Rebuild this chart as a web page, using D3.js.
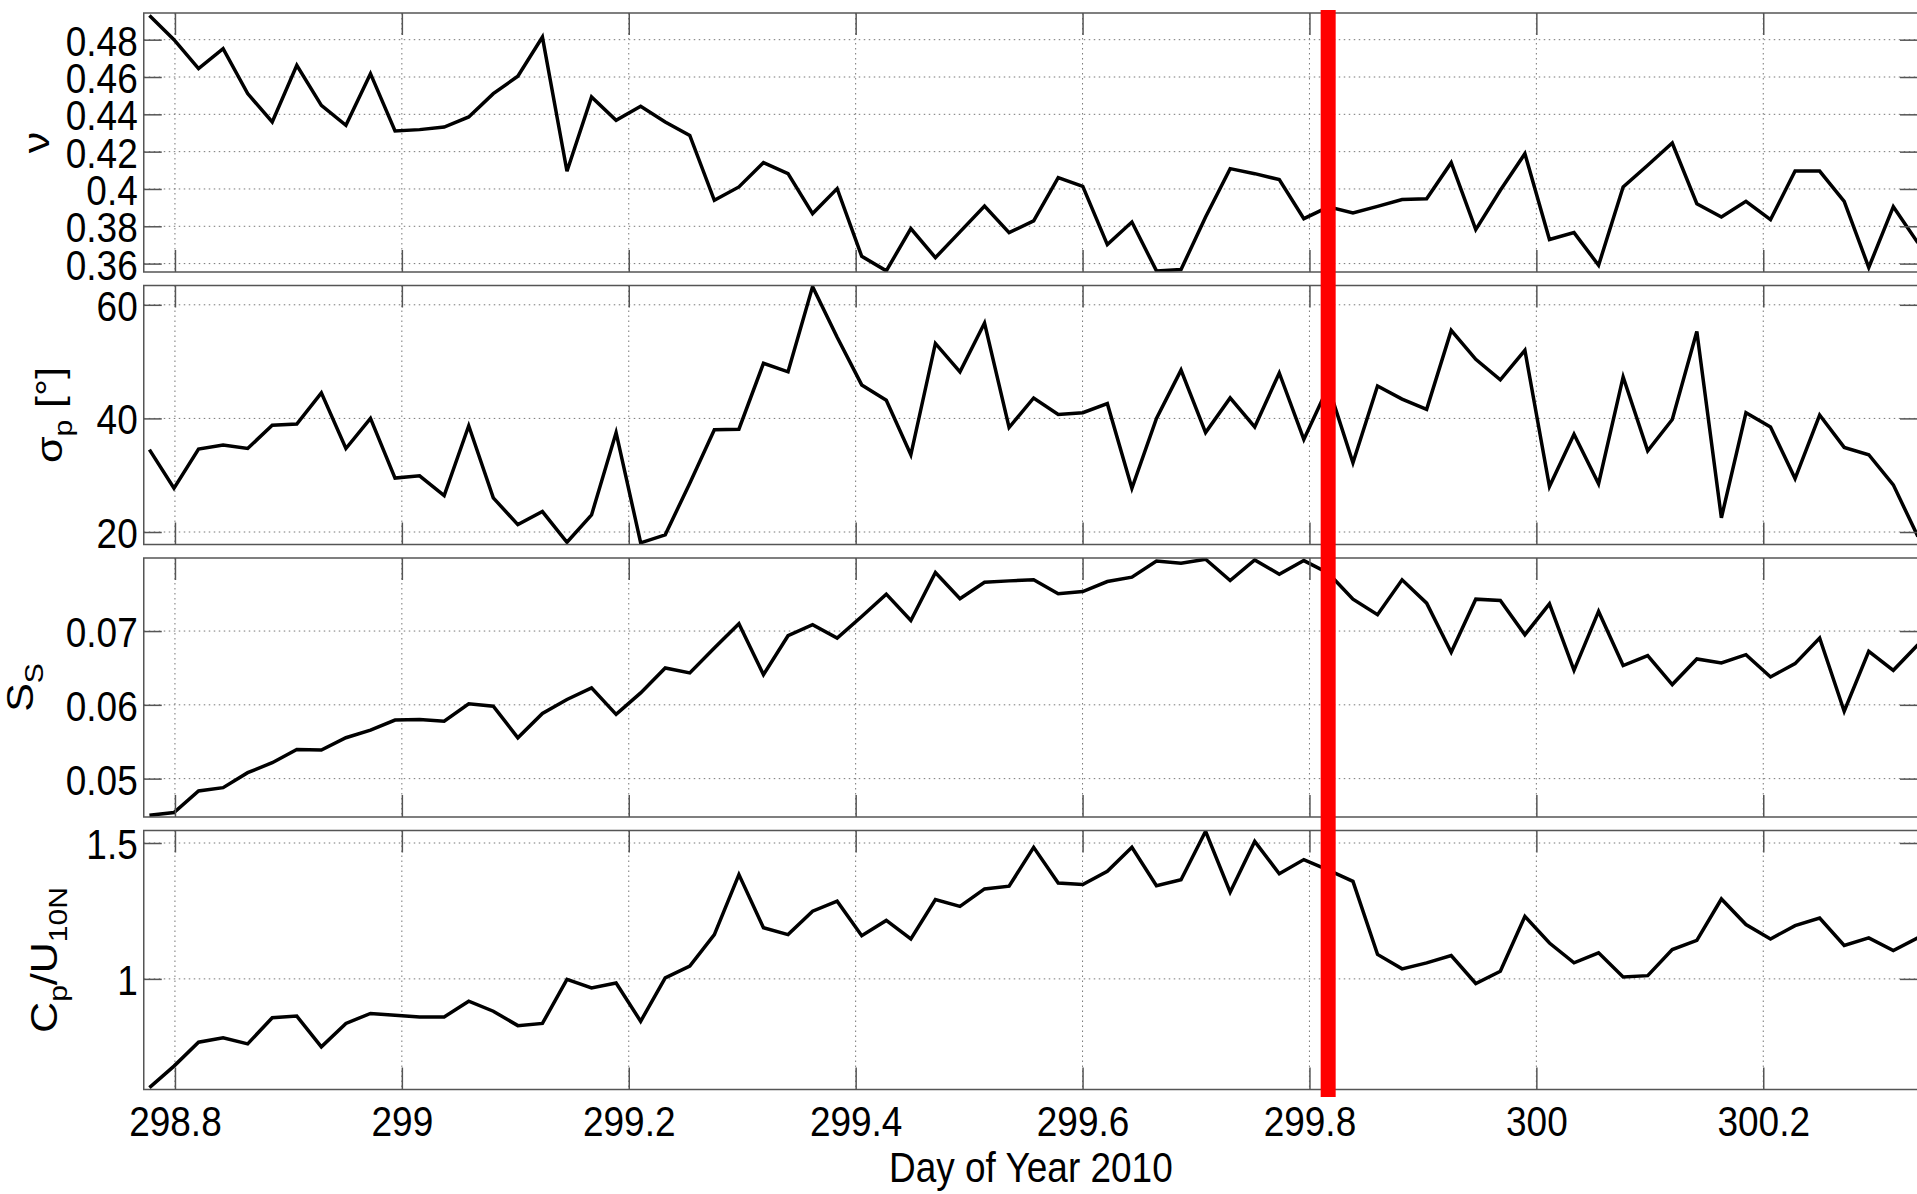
<!DOCTYPE html>
<html>
<head>
<meta charset="utf-8">
<script src="https://cdnjs.cloudflare.com/ajax/libs/d3/7.8.5/d3.min.js"></script>
<style>
    html, body { margin: 0; padding: 0; background: #fff; }
    svg { display: block; }
</style>
</head>
<body>
<div id="chart"></div>
<script>
// sample times: first sample and spacing, in day of year
var startDay = 298.7775;
var stepDay = 0.02165;
var dayMin = 298.7725, dayMax = 300.3364;
// red marker
var eventDay = 299.8165;

// nu
var nu = [0.493, 0.480, 0.4645, 0.4752, 0.4511, 0.4359, 0.4663, 0.4448, 0.4341, 0.4618,
    0.4311, 0.4318, 0.4332, 0.4386, 0.4511, 0.4604, 0.4814, 0.4095, 0.4493, 0.4368,
    0.4443, 0.4359, 0.4287, 0.3939, 0.4011, 0.4141, 0.4082, 0.3868, 0.4002, 0.3639,
    0.3561, 0.3788, 0.3632, 0.3770, 0.3909, 0.3766, 0.3829, 0.4061, 0.4014, 0.3702,
    0.3823, 0.3561, 0.3568, 0.3850, 0.4109, 0.4082, 0.4050, 0.3841, 0.3904, 0.3871,
    0.3907, 0.3943, 0.3948, 0.4141, 0.3782, 0.3993, 0.4189, 0.3729, 0.3766, 0.3591,
    0.4011, 0.4127, 0.4246, 0.3921, 0.3850, 0.3934, 0.3836, 0.4096, 0.4096, 0.3934,
    0.3579, 0.3905, 0.3711];

// sigma_p [deg]
var sigmaP = [34.5, 27.7, 34.6, 35.3, 34.7, 38.8, 39.0, 44.5, 34.7, 40.0,
    29.5, 29.9, 26.4, 38.7, 26.0, 21.3, 23.6, 18.2, 23.0, 37.5,
    18.1, 19.5, 28.6, 38.0, 38.1, 49.7, 48.2, 63.2, 54.3, 45.9,
    43.2, 33.6, 53.2, 48.2, 56.8, 38.4, 43.6, 40.7, 41.0, 42.6,
    27.7, 40.0, 48.5, 37.5, 43.6, 38.5, 48.0, 36.3, 45.6, 32.2,
    45.7, 43.4, 41.6, 55.5, 50.4, 46.8, 52.0, 28.0, 37.2, 28.5,
    47.3, 34.3, 39.8, 55.3, 22.5, 41.0, 38.5, 29.4, 40.6, 34.9,
    33.6, 28.3, 19.2];

// S_S
var steepness = [0.04505, 0.0454, 0.04833, 0.04878, 0.05081, 0.05216, 0.05396, 0.05387, 0.05554, 0.05658,
    0.05793, 0.05802, 0.05779, 0.06014, 0.05982, 0.05554, 0.05883, 0.06072, 0.0623, 0.0587,
    0.06162, 0.065, 0.06432, 0.0677, 0.07099, 0.0641, 0.06937, 0.07086, 0.06905, 0.07198,
    0.075, 0.07144, 0.07793, 0.07437, 0.07662, 0.0768, 0.07694, 0.07505, 0.07536, 0.07671,
    0.0773, 0.0795, 0.07919, 0.07973, 0.07685, 0.07964, 0.0777, 0.07955, 0.07784, 0.07432,
    0.07221, 0.07694, 0.07378, 0.06712, 0.07432, 0.07414, 0.0695, 0.07369, 0.06468, 0.07266,
    0.06532, 0.06667, 0.06275, 0.06622, 0.06568, 0.0668, 0.06378, 0.06559, 0.06905, 0.05914,
    0.06725, 0.06468, 0.06815];

// C_p / U_10N
var waveAge = [0.600, 0.679, 0.767, 0.783, 0.761, 0.857, 0.863, 0.750, 0.836, 0.873,
    0.866, 0.860, 0.860, 0.918, 0.881, 0.828, 0.836, 0.998, 0.967, 0.985,
    0.844, 1.004, 1.047, 1.163, 1.384, 1.188, 1.163, 1.249, 1.286, 1.159,
    1.215, 1.147, 1.292, 1.267, 1.331, 1.341, 1.484, 1.353, 1.347, 1.396,
    1.484, 1.343, 1.365, 1.543, 1.319, 1.506, 1.387, 1.439, 1.400, 1.359,
    1.090, 1.037, 1.059, 1.086, 0.983, 1.028, 1.230, 1.132, 1.059, 1.096,
    1.007, 1.012, 1.108, 1.142, 1.294, 1.200, 1.147, 1.196, 1.224, 1.123,
    1.151, 1.104, 1.151];

// ticks
var dayTicks = [298.8, 299, 299.2, 299.4, 299.6, 299.8, 300, 300.2];
var dayTickLabels = ['298.8', '299', '299.2', '299.4', '299.6', '299.8', '300', '300.2'];
var nuTicks = [0.36, 0.38, 0.40, 0.42, 0.44, 0.46, 0.48];
var nuTickLabels = ['0.36', '0.38', '0.4', '0.42', '0.44', '0.46', '0.48'];
var sigmaTicks = [20, 40, 60];
var sigmaTickLabels = ['20', '40', '60'];
var steepTicks = [0.05, 0.06, 0.07];
var steepTickLabels = ['0.05', '0.06', '0.07'];
var ageTicks = [1, 1.5];
var ageTickLabels = ['1', '1.5'];

// axis titles: [text, subscript?]
var nuTitle = [['\u03BD', 0]];
var sigmaTitle = [['\u03C3', 0], ['p', 1], [' [\u00B0]', 0]];
var steepTitle = [['S', 0], ['S', 1]];
var ageTitle = [['C', 0], ['p', 1], ['/U', 0], ['10N', 1]];
var xTitle = 'Day of Year 2010';

var width = 1917, height = 1194;
var left = 143.75, right = 1918;
var panelTop = 13, panelH = 259, panelGap = 13.5;
var squeeze = 0.86; // the original text is horizontally narrow
var font = '"Liberation Sans", Arial, Helvetica, sans-serif';
var axisColor = '#555';

var days = nu.map(function(d, i) { return startDay + i * stepDay; });

var svg = d3.select('#chart').append('svg')
    .attr('width', width)
    .attr('height', height)
    .style('font-family', font);

svg.append('rect').attr('width', width).attr('height', height).attr('fill', '#fff');

var x = d3.scaleLinear().domain([dayMin, dayMax]).range([left, right]);

var panels = [
    {values: nu, domain: [0.3555, 0.4943], ticks: nuTicks, labels: nuTickLabels, title: nuTitle, titleX: 49},
    {values: sigmaP, domain: [17.8, 63.4], ticks: sigmaTicks, labels: sigmaTickLabels, title: sigmaTitle, titleX: 62},
    {values: steepness, domain: [0.0448, 0.0799], ticks: steepTicks, labels: steepTickLabels, title: steepTitle, titleX: 33},
    {values: waveAge, domain: [0.593, 1.546], ticks: ageTicks, labels: ageTickLabels, title: ageTitle, titleX: 57}
];

function squeezeText(sel, dy)
{
    sel.each(function() {
        var t = d3.select(this);
        var tx = +t.attr('x') || 0, ty = +t.attr('y') || 0;
        t.attr('x', 0).attr('y', 0).attr('dy', dy)
            .attr('transform', 'translate(' + tx + ',' + ty + ') scale(' + squeeze + ',1)');
    });
}

function styleAxis(g)
{
    g.attr('font-family', null).attr('font-size', 43);
    g.select('.domain').remove();
    g.selectAll('line').attr('stroke', axisColor).attr('stroke-width', 1.5);
    g.selectAll('text').attr('fill', '#000');
}

panels.forEach(function(p, k)
{
    var top = panelTop + k * (panelH + panelGap);
    var bottom = top + panelH;
    var y = d3.scaleLinear().domain(p.domain).range([bottom, top]);
    var g = svg.append('g');

    g.append('rect')
        .attr('x', left).attr('y', top)
        .attr('width', right - left).attr('height', panelH)
        .attr('fill', '#fff');

    //dotted grid
    g.selectAll('.gridx')
        .data(dayTicks)
        .enter()
        .append('line')
        .attr('x1', function(d) { return x(d); })
        .attr('x2', function(d) { return x(d); })
        .attr('y1', top).attr('y2', bottom)
        .attr('stroke', '#777').attr('stroke-width', 1)
        .attr('stroke-dasharray', '1.5,3.5');

    g.selectAll('.gridy')
        .data(p.ticks)
        .enter()
        .append('line')
        .attr('x1', left).attr('x2', right)
        .attr('y1', function(d) { return y(d); })
        .attr('y2', function(d) { return y(d); })
        .attr('stroke', '#777').attr('stroke-width', 1)
        .attr('stroke-dasharray', '1.5,3.5');

    //data line, clipped to the axes
    g.append('clipPath').attr('id', 'clip' + k)
        .append('rect')
        .attr('x', left).attr('y', top)
        .attr('width', right - left).attr('height', panelH);

    var line = d3.line()
        .x(function(d, i) { return x(days[i]); })
        .y(function(d) { return y(d); });

    g.append('path')
        .datum(p.values)
        .attr('clip-path', 'url(#clip' + k + ')')
        .attr('d', line)
        .attr('fill', 'none')
        .attr('stroke', '#000')
        .attr('stroke-width', 3.5)
        .attr('stroke-linejoin', 'miter');

    //axes with inward ticks
    var axL = g.append('g')
        .attr('transform', 'translate(' + left + ',0)')
        .call(d3.axisLeft(y).tickValues(p.ticks)
            .tickFormat(function(d, i) { return p.labels[i]; })
            .tickSizeInner(-18).tickSizeOuter(0).tickPadding(6));
    styleAxis(axL);
    squeezeText(axL.selectAll('text'), '0.36em');

    var axR = g.append('g')
        .attr('transform', 'translate(' + right + ',0)')
        .call(d3.axisRight(y).tickValues(p.ticks).tickFormat('').tickSizeInner(-18).tickSizeOuter(0));
    styleAxis(axR);

    var axT = g.append('g')
        .attr('transform', 'translate(0,' + top + ')')
        .call(d3.axisTop(x).tickValues(dayTicks).tickFormat('').tickSizeInner(-22).tickSizeOuter(0));
    styleAxis(axT);

    var axB = g.append('g')
        .attr('transform', 'translate(0,' + bottom + ')')
        .call(d3.axisBottom(x).tickValues(dayTicks)
            .tickFormat(function(d, i) { return k === panels.length - 1 ? dayTickLabels[i] : ''; })
            .tickSizeInner(-22).tickSizeOuter(0));
    styleAxis(axB);
    axB.selectAll('text').attr('y', 46);
    squeezeText(axB.selectAll('text'), 0);

    g.append('rect')
        .attr('x', left).attr('y', top)
        .attr('width', right - left).attr('height', panelH)
        .attr('fill', 'none')
        .attr('stroke', axisColor)
        .attr('stroke-width', 1.5);

    //rotated y label with subscripts
    var title = g.append('text')
        .attr('text-anchor', 'middle')
        .attr('font-size', 43)
        .attr('transform', 'translate(' + p.titleX + ',' + (top + panelH / 2) + ') scale(' + squeeze + ',1) rotate(-90)');
    var shift = 0;
    p.title.forEach(function(part)
    {
        var target = part[1] ? 12 : 0;
        title.append('tspan')
            .attr('dy', target - shift)
            .attr('font-size', part[1] ? 30 : 43)
            .text(part[0]);
        shift = target;
    });
});

svg.append('text')
    .attr('text-anchor', 'middle')
    .attr('font-size', 43)
    .attr('transform', 'translate(' + ((left + right) / 2) + ',1182) scale(' + squeeze + ',1)')
    .text(xTitle);

//red marker line
svg.append('rect')
    .attr('x', x(eventDay) - 7.5)
    .attr('y', 10)
    .attr('width', 15)
    .attr('height', 1087)
    .attr('fill', '#ff0000');
</script>
</body>
</html>
